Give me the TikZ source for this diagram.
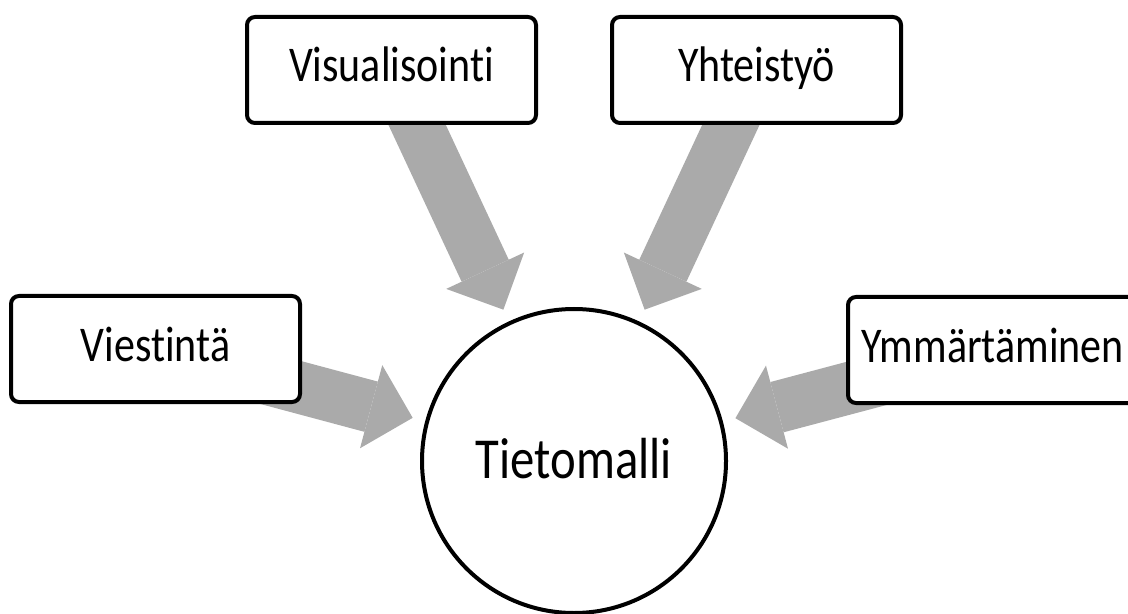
\documentclass[tikz,border=0pt]{standalone}
\usepackage{fontspec}
\setmainfont[FakeStretch=0.84,Ligatures=NoCommon]{Carlito}
\usepackage{xcolor}
\usetikzlibrary{calc}
\usetikzlibrary{positioning,arrows.meta,backgrounds}
\definecolor{arrowgray}{HTML}{AAAAAA}
\tikzset{boxnode/.style={draw, line width=2pt, rounded corners=4pt, fill=white,
  minimum width=144.5pt, minimum height=53pt, inner sep=0pt,
  font=\fontsize{25}{30}\selectfont, text height=16pt, text depth=4pt}}
\tikzset{bignode/.style={draw, circle, line width=2pt, fill=white,
  minimum size=152pt, inner sep=0pt,
  font=\fontsize{29}{34}\selectfont, text height=19pt, text depth=2pt}}
\tikzset{fatarrow/.style={draw=arrowgray, line width=26pt,
  -{Triangle[length=21.5pt,width=43pt,line width=0pt 0 0]}, shorten >=6.5pt}}

\begin{document}
\begin{tikzpicture}[x=0.5pt,y=-0.5pt]
\useasboundingbox (0,0) rectangle (1128,614);
\node[bignode] (tieto) at (574,461) {Tietomalli};
\node[boxnode] (vis) at (391.5,70) {Visualisointi};
\node[boxnode] (yht) at (756.5,70) {Yhteistyö};
\node[boxnode] (vie) at (155.5,349) {Viestintä};
\node[boxnode] (ymm) at (992.5,350) {Ymmärtäminen};
\begin{scope}[on background layer]
\draw[fatarrow] (vis.center) -- (tieto);
\draw[fatarrow] (yht.center) -- (tieto);
\draw[fatarrow] (vie.center) -- (tieto);
\draw[fatarrow] (ymm.center) -- (tieto);
\end{scope}
\end{tikzpicture}
\end{document}
